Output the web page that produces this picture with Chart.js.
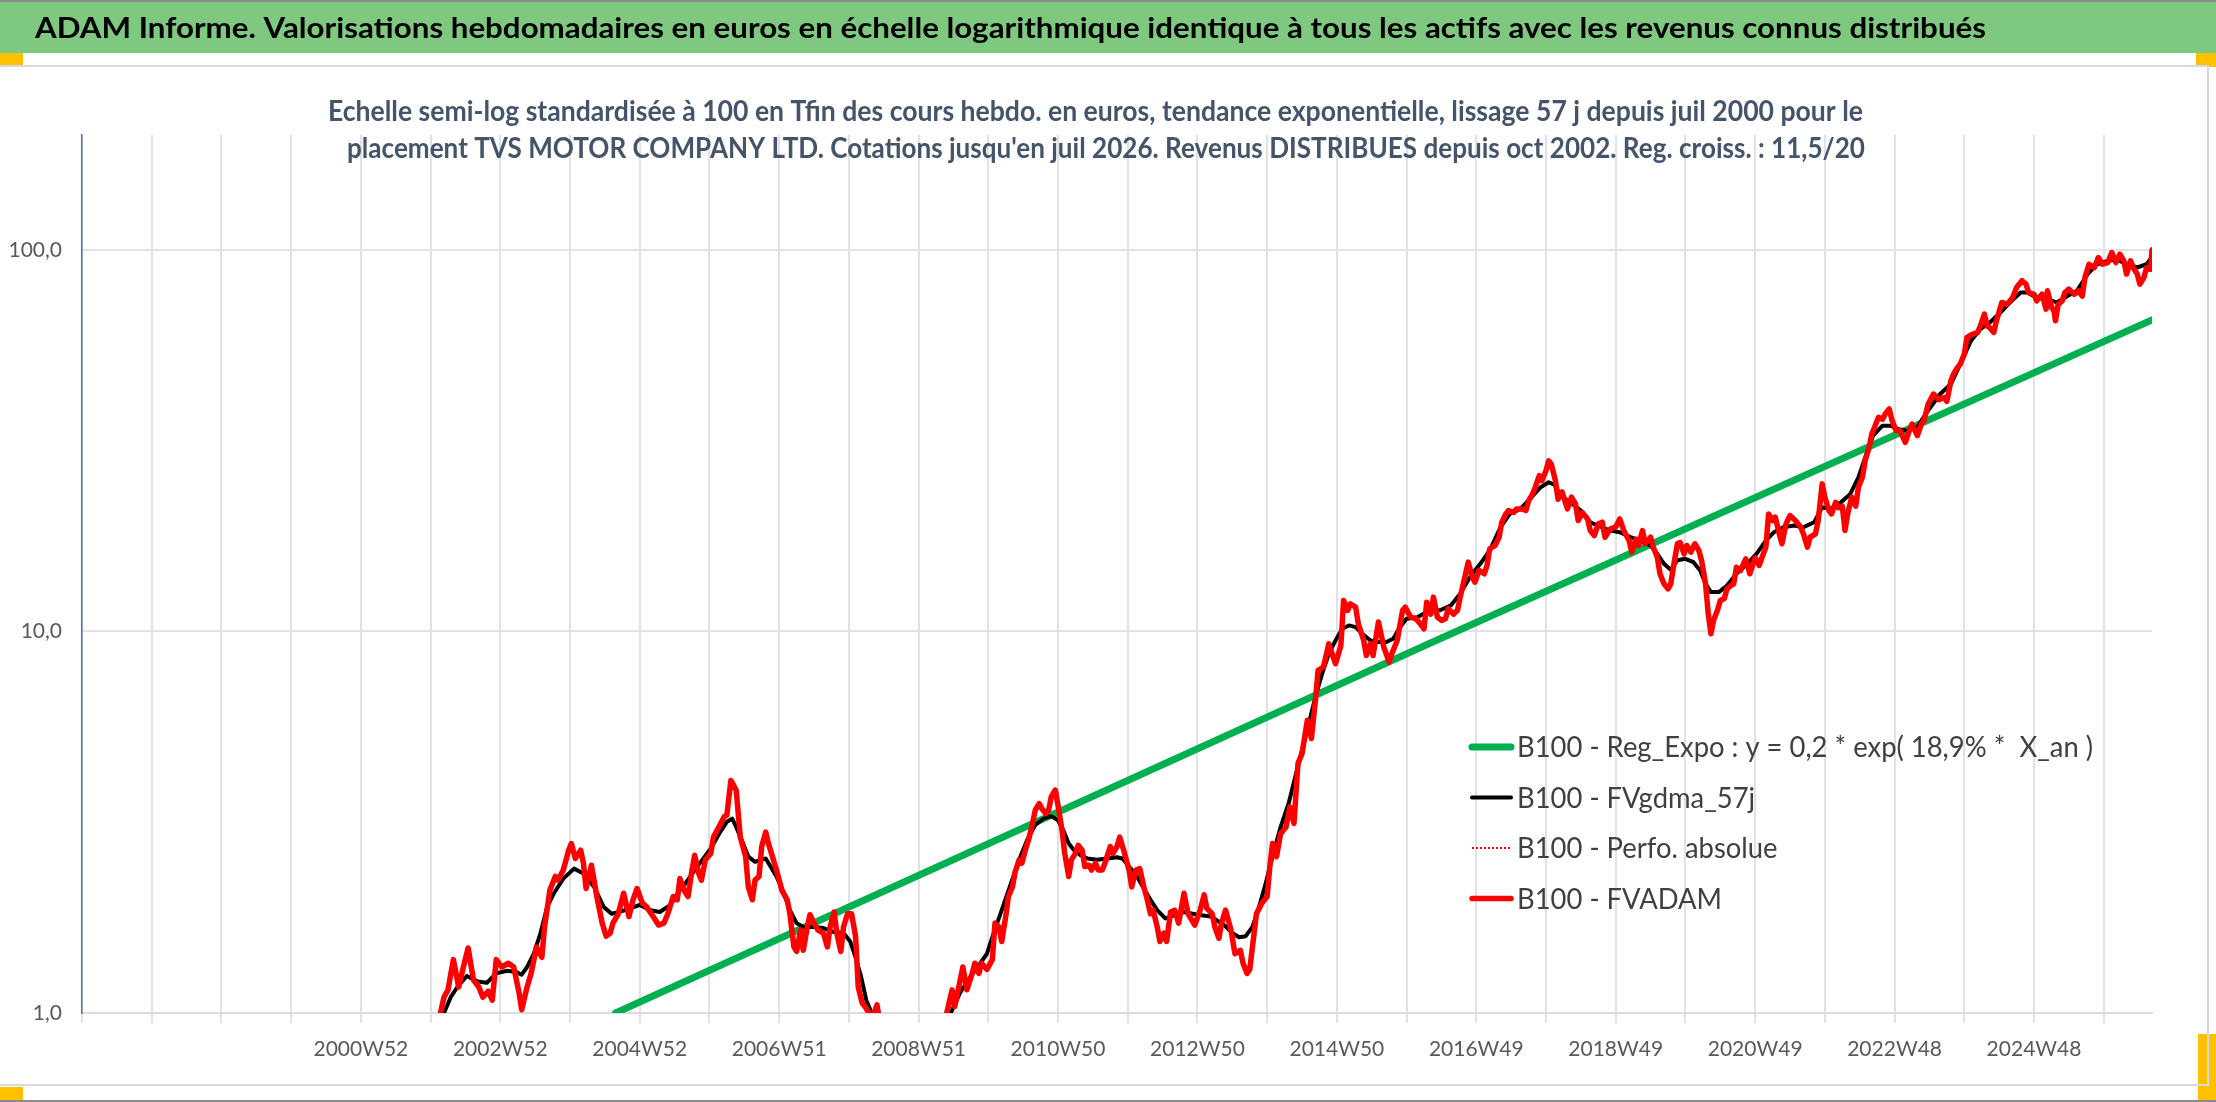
<!DOCTYPE html>
<html>
<head>
<meta charset="utf-8">
<script src="https://cdn.jsdelivr.net/npm/chart.js@4.4.1/dist/chart.umd.min.js"></script>
<style>
  html, body { margin: 0; padding: 0; background: #fff; }
  #page { position: relative; width: 2216px; height: 1102px; overflow: hidden; background: #fff; }
  #bar { position: absolute; left: 0; top: 0; width: 2216px; height: 53px; background: #7ec87f; border-top: 2px solid #8a8a8a; box-sizing: border-box; }
  .orange { position: absolute; background: #ffc000; }
  .frame { position: absolute; background: #d9d9d9; }
  #myChart { position: absolute; left: 0; top: 0; }
</style>
</head>
<body>
<div id="page">
  <div id="bar"></div>
  <div class="orange" style="left:0;top:53px;width:23px;height:13px"></div>
  <div class="orange" style="left:2196px;top:53px;width:20px;height:14px"></div>
  <div class="orange" style="left:0;top:1087px;width:23px;height:13px"></div>
  <div class="orange" style="left:2198px;top:1034px;width:18px;height:66px"></div>
  <div class="frame" style="left:0;top:65px;width:2209px;height:2px"></div>
  <div class="frame" style="left:2207px;top:65px;width:2px;height:1021px"></div>
  <div class="frame" style="left:0;top:1084px;width:2209px;height:2px"></div>
  <div class="frame" style="left:0;top:1100px;width:2216px;height:2px;background:#8c8c8c"></div>
  <canvas id="myChart" width="2216" height="1102"></canvas>
</div>
<script>
const mainTitle = 'ADAM Informe. Valorisations hebdomadaires en euros en échelle logarithmique identique à tous les actifs avec les revenus connus distribués';
const subTitle = [
    'Echelle semi-log standardisée à 100 en Tfin des cours hebdo. en euros, tendance exponentielle, lissage 57 j depuis juil 2000 pour le',
    "placement TVS MOTOR COMPANY LTD. Cotations jusqu'en juil 2026. Revenus DISTRIBUES depuis oct 2002. Reg. croiss. : 11,5/20"
];

// week index 0 = first weekly category (1997W01), last = 2026W30
const lastWeek = 1544;
const gridStep = 52;
const firstLabelWeek = 208;
const labelStep = 104;
const tickLabels = ['2000W52', '2002W52', '2004W52', '2006W51', '2008W51', '2010W50', '2012W50',
    '2014W50', '2016W49', '2018W49', '2020W49', '2022W48', '2024W48'];
const yTicks = [1, 10, 100];

const seriesNames = [
    'B100 - Reg_Expo : y = 0,2 * exp( 18,9% *  X_an )',
    'B100 - FVgdma_57j',
    'B100 - Perfo. absolue',
    'B100 - FVADAM'
];

// [week index, value]
const regExpo = [[398, 1.0], [1005, 9.3], [1544, 65.5]];

const fvgdma = [
    [270, 1.0], [275, 1.10], [280, 1.17], [287, 1.25], [295, 1.21], [302, 1.20], [309, 1.27], [317, 1.29],
    [324, 1.28], [328, 1.26], [332, 1.32], [337, 1.43], [342, 1.62], [347, 1.90], [352, 2.06], [359, 2.25],
    [367, 2.39], [374, 2.32], [382, 2.14], [389, 1.90], [395, 1.82], [401, 1.84], [409, 1.88], [416, 1.92],
    [424, 1.86], [431, 1.84], [439, 1.92], [446, 2.10], [449, 2.16], [459, 2.42], [469, 2.70], [476, 2.98],
    [481, 3.17], [485, 3.23], [488, 3.07], [492, 2.84], [497, 2.57], [502, 2.49], [506, 2.52], [510, 2.54],
    [513, 2.44], [518, 2.28], [523, 2.08], [528, 1.86], [533, 1.72], [538, 1.68], [546, 1.68], [553, 1.67],
    [561, 1.63], [568, 1.62], [573, 1.54], [577, 1.40], [581, 1.25], [585, 1.08], [589, 1.0], [595, 0.92],
    [603, 0.82], [612, 0.74], [622, 0.72], [632, 0.78], [640, 0.88], [648, 1.0], [655, 1.13], [663, 1.25],
    [670, 1.35], [675, 1.43], [680, 1.62], [686, 1.86], [692, 2.14], [699, 2.52], [705, 2.84], [711, 3.11],
    [717, 3.23], [723, 3.28], [728, 3.20], [732, 3.01], [736, 2.78], [740, 2.67], [745, 2.59], [750, 2.54],
    [757, 2.52], [765, 2.54], [772, 2.56], [776, 2.54], [781, 2.42], [787, 2.28], [792, 2.12], [797, 1.98],
    [802, 1.86], [808, 1.77], [814, 1.80], [822, 1.84], [832, 1.81], [842, 1.79], [852, 1.70], [858, 1.62],
    [863, 1.58], [868, 1.59], [873, 1.68], [878, 1.90], [883, 2.19], [888, 2.57], [894, 3.07], [900, 3.54],
    [905, 4.16], [910, 4.88], [915, 5.73], [920, 6.73], [925, 7.75], [930, 8.74], [935, 9.47], [940, 10.16],
    [945, 10.37], [950, 10.26], [955, 9.86], [961, 9.47], [967, 9.38], [973, 9.38], [978, 9.57], [983, 10.26],
    [988, 10.79], [996, 10.9], [1003, 11.24], [1006, 11.36], [1013, 11.36], [1021, 11.7], [1028, 12.55],
    [1036, 14.02], [1043, 15.04], [1050, 16.3], [1058, 18.75], [1065, 20.32], [1073, 20.95], [1080, 22.25],
    [1088, 23.87], [1094, 24.6], [1098, 24.3], [1103, 22.7], [1110, 21.8], [1118, 20.74], [1125, 19.33],
    [1133, 18.78], [1140, 18.38], [1147, 18.2], [1155, 17.66], [1162, 17.3], [1170, 16.8], [1175, 15.97],
    [1180, 15.04], [1185, 14.5], [1190, 15.37], [1196, 15.5], [1202, 15.19], [1207, 14.45], [1211, 13.33],
    [1215, 12.68], [1221, 12.68], [1227, 13.2], [1234, 14.16], [1242, 15.04], [1249, 15.97], [1256, 17.3],
    [1262, 18.2], [1269, 18.75], [1277, 18.95], [1284, 18.75], [1292, 19.33], [1298, 21.16], [1304, 20.95],
    [1312, 21.8], [1319, 22.93], [1325, 25.35], [1331, 29.2], [1336, 32.6], [1343, 34.6], [1349, 34.6],
    [1355, 33.9], [1361, 33.6], [1369, 34.3], [1376, 37.5], [1386, 41.9], [1394, 44.5], [1401, 50.2],
    [1409, 57.8], [1416, 62.0], [1423, 64.5], [1431, 68.5], [1438, 72.8], [1446, 77.3], [1451, 77.3],
    [1458, 74.9], [1466, 74.2], [1473, 72.8], [1481, 75.7], [1488, 78.1], [1496, 86.4], [1503, 91.7],
    [1511, 93.6], [1518, 94.4], [1525, 91.7], [1533, 89.9], [1540, 91.7], [1544, 95.9]
];

const fvadam = [
    [266, 0.95], [270, 1.10], [273, 1.15], [277, 1.38], [281, 1.17], [284, 1.30], [288, 1.48], [292, 1.22],
    [296, 1.17], [299, 1.10], [303, 1.14], [306, 1.08], [309, 1.38], [313, 1.32], [318, 1.35], [322, 1.32],
    [326, 1.13], [328, 1.02], [332, 1.17], [335, 1.27], [339, 1.49], [343, 1.40], [345, 1.68], [349, 2.10],
    [353, 2.28], [355, 2.23], [359, 2.37], [363, 2.67], [365, 2.78], [368, 2.54], [372, 2.67], [374, 2.47],
    [376, 2.12], [380, 2.44], [384, 2.02], [388, 1.72], [391, 1.59], [394, 1.62], [396, 1.72], [400, 1.82],
    [404, 2.06], [408, 1.79], [411, 1.98], [414, 2.12], [418, 1.94], [421, 1.90], [426, 1.79], [430, 1.70],
    [434, 1.72], [437, 1.82], [441, 2.02], [444, 1.98], [446, 2.25], [449, 2.10], [452, 2.02], [455, 2.37],
    [457, 2.59], [460, 2.32], [462, 2.23], [465, 2.52], [469, 2.62], [471, 2.89], [475, 3.07], [479, 3.27],
    [481, 3.30], [484, 4.07], [486, 3.95], [488, 3.83], [491, 2.89], [495, 2.57], [497, 2.14], [500, 1.98],
    [502, 2.23], [505, 2.28], [507, 2.73], [510, 2.98], [512, 2.78], [515, 2.57], [518, 2.37], [522, 2.10],
    [526, 1.98], [528, 1.82], [531, 1.49], [533, 1.45], [536, 1.65], [538, 1.46], [541, 1.68], [543, 1.81],
    [546, 1.72], [549, 1.65], [553, 1.62], [556, 1.49], [558, 1.68], [561, 1.84], [563, 1.62], [566, 1.45],
    [568, 1.68], [571, 1.82], [574, 1.82], [577, 1.59], [579, 1.17], [582, 1.06], [584, 1.04], [587, 1.0],
    [590, 0.98], [593, 1.05], [595, 0.95], [600, 0.85], [606, 0.72], [614, 0.65], [622, 0.68], [630, 0.75],
    [638, 0.85], [643, 0.96], [645, 1.0], [649, 1.15], [651, 1.04], [654, 1.17], [657, 1.32], [660, 1.15],
    [664, 1.27], [666, 1.35], [669, 1.27], [671, 1.35], [675, 1.30], [679, 1.38], [681, 1.72], [684, 1.68],
    [686, 1.54], [689, 1.79], [691, 2.02], [694, 2.14], [696, 2.34], [699, 2.52], [701, 2.47], [704, 2.70],
    [706, 2.84], [709, 3.14], [711, 3.40], [714, 3.54], [716, 3.43], [719, 3.33], [721, 3.40], [723, 3.69],
    [726, 3.84], [728, 3.50], [731, 3.01], [733, 2.62], [736, 2.28], [738, 2.52], [741, 2.62], [743, 2.75],
    [746, 2.67], [748, 2.42], [751, 2.44], [753, 2.37], [756, 2.47], [758, 2.37], [761, 2.37], [763, 2.47],
    [767, 2.73], [769, 2.62], [772, 2.73], [774, 2.89], [777, 2.67], [781, 2.37], [783, 2.14], [786, 2.37],
    [789, 2.39], [792, 2.14], [794, 2.02], [797, 1.82], [799, 1.86], [802, 1.68], [804, 1.54], [807, 1.62],
    [809, 1.54], [812, 1.84], [815, 1.86], [818, 1.72], [822, 2.06], [825, 1.82], [830, 1.70], [834, 1.86],
    [837, 2.04], [839, 1.88], [843, 1.82], [845, 1.68], [848, 1.57], [850, 1.72], [853, 1.86], [857, 1.65],
    [860, 1.43], [864, 1.46], [866, 1.35], [869, 1.27], [871, 1.30], [874, 1.59], [876, 1.82], [880, 1.94],
    [884, 2.02], [886, 2.42], [888, 2.78], [891, 2.57], [894, 2.95], [898, 3.07], [901, 3.47], [904, 3.14],
    [907, 4.51], [910, 4.78], [914, 5.85], [917, 5.24], [920, 6.60], [922, 7.91], [926, 8.07], [930, 9.28],
    [932, 8.83], [935, 8.23], [939, 9.19], [941, 12.06], [944, 11.35], [946, 11.81], [950, 11.58], [952, 10.47],
    [956, 9.47], [958, 8.65], [961, 9.28], [963, 8.65], [967, 10.58], [971, 9.10], [975, 8.31], [977, 8.74],
    [981, 9.47], [985, 11.35], [987, 11.58], [991, 10.9], [995, 10.79], [998, 10.5], [1001, 10.16], [1003, 11.93],
    [1006, 11.1], [1008, 12.3], [1011, 10.9], [1014, 10.69], [1017, 10.8], [1019, 11.47], [1023, 11.1],
    [1026, 11.36], [1028, 12.3], [1032, 14.16], [1034, 15.19], [1037, 13.87], [1039, 13.46], [1042, 14.45],
    [1046, 14.16], [1048, 14.9], [1050, 16.46], [1054, 16.8], [1057, 17.66], [1059, 19.33], [1062, 20.32],
    [1064, 20.74], [1068, 20.5], [1070, 20.95], [1074, 20.95], [1077, 20.74], [1079, 22.0], [1082, 22.93],
    [1084, 23.87], [1087, 25.6], [1089, 24.85], [1092, 26.4], [1094, 28.0], [1096, 27.4], [1099, 24.85],
    [1101, 22.2], [1104, 23.2], [1108, 20.95], [1111, 22.5], [1114, 21.6], [1116, 19.53], [1119, 20.5],
    [1123, 19.72], [1125, 18.38], [1128, 17.84], [1131, 19.14], [1134, 19.33], [1136, 17.66], [1140, 18.58],
    [1144, 18.78], [1147, 19.72], [1150, 18.38], [1154, 17.3], [1156, 16.13], [1159, 17.46], [1161, 16.8],
    [1164, 18.38], [1166, 16.97], [1170, 17.66], [1172, 16.63], [1175, 15.65], [1177, 14.16], [1180, 13.33],
    [1183, 12.93], [1185, 13.3], [1187, 14.73], [1190, 16.97], [1192, 17.1], [1195, 15.97], [1197, 16.8],
    [1200, 16.13], [1203, 16.97], [1206, 16.3], [1208, 15.35], [1211, 13.33], [1213, 11.13], [1215, 9.86],
    [1217, 10.69], [1220, 11.4], [1222, 12.06], [1225, 12.2], [1227, 12.93], [1230, 13.2], [1232, 13.33],
    [1234, 14.73], [1237, 14.43], [1241, 15.49], [1244, 14.16], [1248, 15.6], [1251, 14.9], [1253, 15.6],
    [1256, 16.63], [1258, 20.32], [1261, 19.53], [1263, 19.93], [1266, 18.02], [1268, 16.97], [1271, 19.14],
    [1274, 20.12], [1278, 19.53], [1282, 18.75], [1284, 18.02], [1287, 16.63], [1289, 17.66], [1293, 18.02],
    [1295, 19.53], [1298, 24.36], [1300, 22.47], [1303, 20.74], [1305, 20.32], [1308, 21.8], [1310, 21.1],
    [1313, 21.3], [1315, 18.38], [1317, 20.32], [1320, 22.47], [1323, 21.3], [1325, 23.87], [1328, 25.35],
    [1330, 28.0], [1333, 30.4], [1335, 32.9], [1338, 34.97], [1340, 36.4], [1343, 36.0], [1345, 37.14],
    [1348, 38.3], [1350, 35.8], [1353, 33.6], [1356, 33.6], [1360, 31.3], [1363, 33.6], [1365, 34.97],
    [1369, 32.6], [1372, 35.0], [1374, 35.7], [1377, 39.4], [1381, 41.9], [1385, 40.5], [1389, 41.0],
    [1391, 40.1], [1394, 45.4], [1396, 47.3], [1399, 49.2], [1401, 50.2], [1404, 53.3], [1406, 59.0],
    [1410, 60.1], [1414, 60.8], [1416, 63.2], [1419, 67.9], [1421, 63.2], [1423, 62.5], [1426, 60.8],
    [1428, 65.2], [1432, 72.8], [1436, 72.0], [1440, 74.9], [1443, 79.7], [1447, 83.0], [1450, 81.3],
    [1452, 77.3], [1456, 76.5], [1458, 73.5], [1462, 76.5], [1465, 69.9], [1466, 78.1], [1469, 70.9],
    [1471, 69.0], [1472, 65.2], [1474, 72.0], [1477, 73.5], [1479, 77.3], [1482, 78.9], [1486, 76.5],
    [1489, 78.1], [1492, 75.7], [1494, 84.7], [1497, 91.7], [1501, 89.9], [1504, 95.5], [1507, 91.7],
    [1511, 92.6], [1514, 98.4], [1517, 92.6], [1520, 97.4], [1523, 93.6], [1525, 86.4], [1528, 93.6],
    [1530, 89.9], [1533, 86.4], [1535, 81.3], [1538, 84.7], [1540, 89.9], [1543, 89.0], [1544, 100.0]
];

function toPoints(pairs) {
    return pairs.map(p => ({ x: p[0], y: p[1] }));
}

// draw one line of text squeezed to a given width (the original uses a narrow font)
function fitText(c, text, font, color, x, y, width) {
    c.save();
    c.font = font;
    let sx = width / c.measureText(text).width;
    c.translate(x, y);
    c.scale(sx, 1);
    c.fillStyle = color;
    c.textBaseline = 'alphabetic';
    c.fillText(text, 0, 0);
    c.restore();
}

const titlePlugin = {
    id: 'adamTitles',
    afterDraw(chart) {
        let c = chart.ctx;
        fitText(c, mainTitle, 'bold 29px Lato, sans-serif', '#000000', 35, 38, 1951);
        fitText(c, subTitle[0], 'bold 29px Lato, sans-serif', '#44546a', 328, 121, 1535);
        fitText(c, subTitle[1], 'bold 29px Lato, sans-serif', '#44546a', 347, 158, 1518);
    }
};

const legendPlugin = {
    id: 'adamLegend',
    afterDraw(chart) {
        let c = chart.ctx;
        c.save();
        c.font = '28px Lato, sans-serif';
        let sx = 576 / c.measureText(chart.data.datasets[0].label).width;
        chart.data.datasets.forEach((ds, i) => {
            let y = 747 + i * 50.5;
            c.strokeStyle = ds.borderColor;
            c.lineWidth = ds.legendWidth;
            c.lineCap = ds.borderDash ? 'butt' : 'round';
            c.setLineDash(ds.borderDash || []);
            c.beginPath();
            c.moveTo(1472, y);
            c.lineTo(1511, y);
            c.stroke();
            c.setLineDash([]);
            c.save();
            c.translate(1517, y);
            c.scale(sx, 1);
            c.fillStyle = '#404040';
            c.textBaseline = 'middle';
            c.fillText(ds.label, 0, 1);
            c.restore();
        });
        c.restore();
    }
};

let ctx = document.getElementById('myChart');
let chart = new Chart(ctx, {
    type: 'line',
    data: {
        datasets: [
            {
                label: seriesNames[0],
                data: toPoints(regExpo),
                borderColor: '#00b050',
                borderWidth: 7,
                legendWidth: 7,
                order: 4
            },
            {
                label: seriesNames[1],
                data: toPoints(fvgdma),
                borderColor: '#000000',
                borderWidth: 4,
                legendWidth: 4,
                order: 3
            },
            {
                label: seriesNames[2],
                data: toPoints(fvadam),
                borderColor: '#ff0000',
                borderWidth: 2,
                borderDash: [2, 2],
                legendWidth: 2,
                order: 2
            },
            {
                label: seriesNames[3],
                data: toPoints(fvadam),
                borderColor: '#ff0000',
                borderWidth: 5.5,
                legendWidth: 5.5,
                order: 1
            }
        ]
    },
    options: {
        responsive: false,
        animation: false,
        devicePixelRatio: 1,
        spanGaps: true,
        elements: {
            point: { radius: 0 },
            line: { tension: 0, borderJoinStyle: 'round', borderCapStyle: 'round' }
        },
        layout: { padding: { left: 0, right: 64, top: 135, bottom: 0 } },
        plugins: {
            legend: { display: false },
            tooltip: { enabled: false },
            title: { display: false }
        },
        scales: {
            x: {
                type: 'linear',
                min: 0,
                max: lastWeek,
                afterFit(scale) { scale.height = 89; },
                afterBuildTicks(scale) {
                    let t = [];
                    for (let w = 0; w <= lastWeek; w += gridStep) t.push({ value: w });
                    scale.ticks = t;
                },
                ticks: {
                    autoSkip: false,
                    maxRotation: 0,
                    padding: 14,
                    color: '#595959',
                    font: { family: 'Lato', size: 21 },
                    callback(v) {
                        let k = (v - firstLabelWeek) / labelStep;
                        return Number.isInteger(k) && k >= 0 && k < tickLabels.length ? tickLabels[k] : '';
                    }
                },
                grid: { color: '#dfe3e8', lineWidth: 2, tickLength: 10 },
                border: { color: '#d9dde3', width: 2 }
            },
            y: {
                type: 'logarithmic',
                min: 1,
                max: 200,
                afterFit(scale) { scale.width = 82; },
                afterBuildTicks(scale) {
                    scale.ticks = yTicks.map(v => ({ value: v }));
                },
                ticks: {
                    padding: 20,
                    color: '#595959',
                    font: { family: 'Lato', size: 21 },
                    callback: v => v.toFixed(1).replace('.', ',')
                },
                grid: { color: '#dfe3e8', lineWidth: 2, drawTicks: false },
                border: { color: '#4472c4', width: 1.5 }
            }
        }
    },
    plugins: [titlePlugin, legendPlugin]
});
</script>
</body>
</html>
